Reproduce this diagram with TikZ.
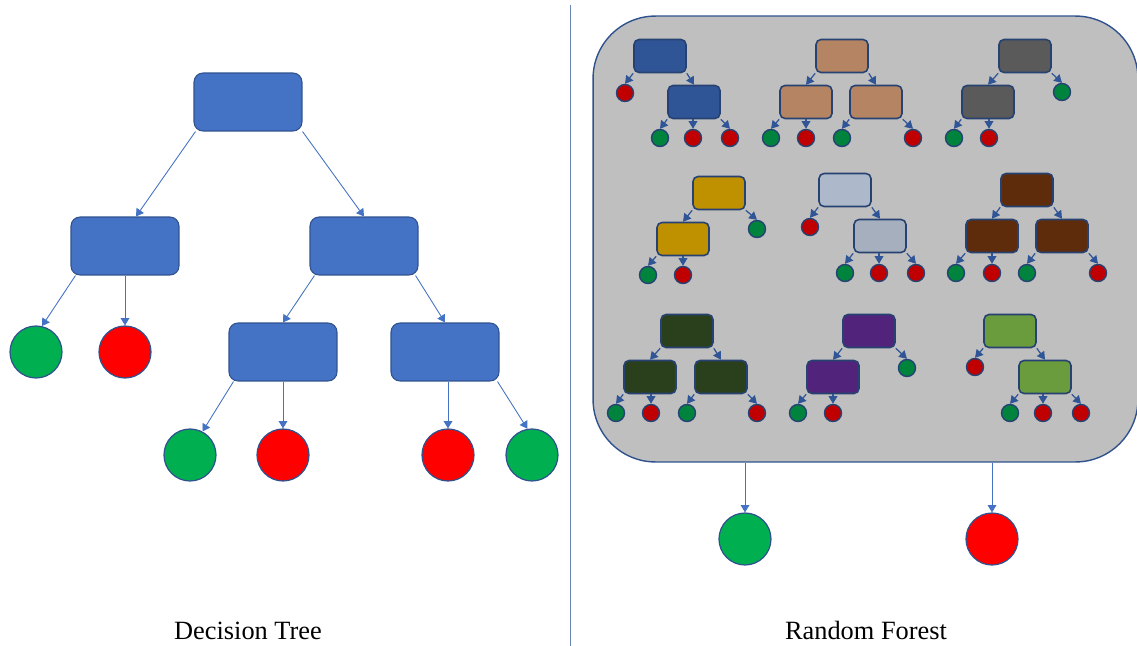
\documentclass[tikz,border=0pt]{standalone}
\usepackage{fontspec}
\setmainfont{Liberation Serif}
\usetikzlibrary{arrows.meta, calc}
\definecolor{cnode}{HTML}{4472C4}
\definecolor{cedge}{HTML}{2F528F}
\definecolor{cline}{HTML}{6C85B5}
\definecolor{cgreen}{HTML}{00B050}
\definecolor{cred}{HTML}{FF0000}
\definecolor{cdkgreen}{HTML}{00843D}
\definecolor{cdkred}{HTML}{C00000}
\definecolor{cforest}{HTML}{BFBFBF}
\definecolor{carrow}{HTML}{2F5597}
\definecolor{ctan}{HTML}{B58462}
\definecolor{cgraph}{HTML}{5A5A5A}
\definecolor{cgold}{HTML}{BF9000}
\definecolor{csteel}{HTML}{ADB9CA}
\definecolor{csteeldk}{HTML}{A6AFBD}
\definecolor{cbrown}{HTML}{5E2C0A}
\definecolor{cpine}{HTML}{2A3F1B}
\definecolor{cpurple}{HTML}{52237A}
\definecolor{colive}{HTML}{6A9B3C}
\tikzset{
  every picture/.style={line width=0.6pt},
  bigbox/.style={draw=cedge, fill=cnode, rounded corners=0.18cm, minimum width=2.16cm, minimum height=1.16cm, inner sep=0pt},
  bigleaf/.style={circle, draw=cedge, fill=#1, minimum size=1.04cm, inner sep=0pt, line width=0.7pt},
  minibox/.style={draw=cedge!80!black, fill=#1, rounded corners=0.1cm, minimum width=1.04cm, minimum height=0.66cm, inner sep=0pt, line width=0.9pt},
  minileaf/.style={circle, draw=cedge!80!black, fill=#1, minimum size=0.34cm, inner sep=0pt, line width=0.8pt},
  arrow/.style={-{Triangle[length=4.2pt, width=5pt]}, draw=cnode, line width=0.5pt},
  miniarrow/.style={-{Triangle[length=4.4pt, width=5pt]}, draw=carrow, line width=0.7pt},
  caption/.style={font=\fontsize{15}{18}\selectfont, anchor=base},
}

\begin{document}
\begin{tikzpicture}[x=0.02cm, y=-0.02cm]
  \useasboundingbox (0,0) rectangle (1137,646);
  % decision tree
  \node[bigbox] (dt-root) at (248,102) {};
  \node[bigbox] (dt-a) at (125,246) {};
  \node[bigbox] (dt-b) at (364,246) {};
  \node[bigbox] (dt-c) at (283,352) {};
  \node[bigbox] (dt-d) at (445,352) {};
  \node[bigleaf=cgreen] (dt-g1) at (36,352) {};
  \node[bigleaf=cred] (dt-r1) at (125,352) {};
  \node[bigleaf=cgreen] (dt-g2) at (190,455) {};
  \node[bigleaf=cred] (dt-r2) at (283,455) {};
  \node[bigleaf=cred] (dt-r3) at (448,455) {};
  \node[bigleaf=cgreen] (dt-g3) at (532,455) {};
  \draw[arrow] ($(dt-root.south west)+(2,0)$) -- ($(dt-a.north)+(11,0)$);
  \draw[arrow] (dt-root.south east) -- (dt-b.north);
  \draw[arrow] ($(dt-a.south west)+(5,0)$) -- (dt-g1.77);
  \draw[arrow] (dt-a.south) -- (dt-r1.north);
  \draw[arrow] ($(dt-b.south west)+(5,0)$) -- (dt-c.north);
  \draw[arrow] ($(dt-b.south east)+(-3,0)$) -- (dt-d.north);
  \draw[arrow] ($(dt-c.south west)+(5,0)$) -- (dt-g2.62);
  \draw[arrow] (dt-c.south) -- (dt-r2.north);
  \draw[arrow] (dt-r3 |- dt-d.south) -- (dt-r3.north);
  \draw[arrow] ($(dt-d.south east)+(-2,0)$) -- (dt-g3.100);
  \node[caption] (dt-label) at (248,639) {Decision Tree};

  \draw[draw=cline, line width=0.45pt] (570,5) -- (570,646);

  % random forest
  \node[draw=cedge, fill=cforest, rounded corners=1.25cm, minimum width=10.9cm, minimum height=8.92cm, inner sep=0pt, line width=0.8pt] (forest) at (865.5,239) {};
  \node[bigleaf=cgreen] (rf-g) at (745,539) {};
  \node[bigleaf=cred] (rf-r) at (992,539) {};
  \draw[arrow] (rf-g |- forest.south) -- (rf-g.north);
  \draw[arrow] (rf-r |- forest.south) -- (rf-r.north);
  \node[caption] (rf-label) at (866,639) {Random Forest};

  % tree 1
  \node[minibox=carrow] (t1-root) at (660,56) {};
  \node[minibox=carrow] (t1-a) at (694,102) {};
  \node[minileaf=cdkred] (t1-l1) at (625,93) {};
  \node[minileaf=cdkgreen] (t1-l2) at (660,138) {};
  \node[minileaf=cdkred] (t1-l3) at (693,138) {};
  \node[minileaf=cdkred] (t1-l4) at (730,138) {};
  \draw[miniarrow] (t1-root.south west) -- (t1-l1.north);
  \draw[miniarrow] (t1-root.south east) -- (t1-a.north);
  \draw[miniarrow] (t1-a.south west) -- (t1-l2.north);
  \draw[miniarrow] (t1-l3 |- t1-a.south) -- (t1-l3.north);
  \draw[miniarrow] (t1-a.south east) -- (t1-l4.north);

  % tree 2
  \node[minibox=ctan] (t2-root) at (842,56) {};
  \node[minibox=ctan] (t2-a) at (806,102) {};
  \node[minibox=ctan] (t2-b) at (876,102) {};
  \node[minileaf=cdkgreen] (t2-l1) at (771,138) {};
  \node[minileaf=cdkred] (t2-l2) at (806,138) {};
  \node[minileaf=cdkgreen] (t2-l3) at (842,138) {};
  \node[minileaf=cdkred] (t2-l4) at (913,138) {};
  \draw[miniarrow] (t2-root.south west) -- (t2-a.north);
  \draw[miniarrow] (t2-root.south east) -- (t2-b.north);
  \draw[miniarrow] (t2-a.south west) -- (t2-l1.north);
  \draw[miniarrow] (t2-a.south) -- (t2-l2.north);
  \draw[miniarrow] (t2-b.south west) -- (t2-l3.north);
  \draw[miniarrow] (t2-b.south east) -- (t2-l4.north);

  % tree 3
  \node[minibox=cgraph] (t3-root) at (1025,56) {};
  \node[minibox=cgraph] (t3-a) at (988,102) {};
  \node[minileaf=cdkgreen] (t3-l1) at (1062,92) {};
  \node[minileaf=cdkgreen] (t3-l2) at (954,138) {};
  \node[minileaf=cdkred] (t3-l3) at (989,138) {};
  \draw[miniarrow] (t3-root.south west) -- (t3-a.north);
  \draw[miniarrow] (t3-root.south east) -- (t3-l1.north);
  \draw[miniarrow] (t3-a.south west) -- (t3-l2.north);
  \draw[miniarrow] (t3-l3 |- t3-a.south) -- (t3-l3.north);

  % tree 4
  \node[minibox=cgold] (t4-root) at (719,193) {};
  \node[minibox=cgold] (t4-a) at (683,239) {};
  \node[minileaf=cdkgreen] (t4-l1) at (757,229) {};
  \node[minileaf=cdkgreen] (t4-l2) at (648,275) {};
  \node[minileaf=cdkred] (t4-l3) at (683,275) {};
  \draw[miniarrow] (t4-root.south west) -- (t4-a.north);
  \draw[miniarrow] (t4-root.south east) -- (t4-l1.north);
  \draw[miniarrow] (t4-a.south west) -- (t4-l2.north);
  \draw[miniarrow] (t4-a.south) -- (t4-l3.north);

  % tree 5
  \node[minibox=csteel] (t5-root) at (845,190) {};
  \node[minibox=csteeldk] (t5-a) at (880,236) {};
  \node[minileaf=cdkred] (t5-l1) at (810,227) {};
  \node[minileaf=cdkgreen] (t5-l2) at (845,273) {};
  \node[minileaf=cdkred] (t5-l3) at (879,273) {};
  \node[minileaf=cdkred] (t5-l4) at (916,273) {};
  \draw[miniarrow] (t5-root.south west) -- (t5-l1.north);
  \draw[miniarrow] (t5-root.south east) -- (t5-a.north);
  \draw[miniarrow] (t5-a.south west) -- (t5-l2.north);
  \draw[miniarrow] (t5-l3 |- t5-a.south) -- (t5-l3.north);
  \draw[miniarrow] (t5-a.south east) -- (t5-l4.north);

  % tree 6
  \node[minibox=cbrown] (t6-root) at (1027,190) {};
  \node[minibox=cbrown] (t6-a) at (992,236) {};
  \node[minibox=cbrown] (t6-b) at (1062,236) {};
  \node[minileaf=cdkgreen] (t6-l1) at (956,273) {};
  \node[minileaf=cdkred] (t6-l2) at (992,273) {};
  \node[minileaf=cdkgreen] (t6-l3) at (1027,273) {};
  \node[minileaf=cdkred] (t6-l4) at (1098,273) {};
  \draw[miniarrow] (t6-root.south west) -- (t6-a.north);
  \draw[miniarrow] (t6-root.south east) -- (t6-b.north);
  \draw[miniarrow] (t6-a.south west) -- (t6-l1.north);
  \draw[miniarrow] (t6-a.south) -- (t6-l2.north);
  \draw[miniarrow] (t6-b.south west) -- (t6-l3.north);
  \draw[miniarrow] (t6-b.south east) -- (t6-l4.north);

  % tree 7
  \node[minibox=cpine] (t7-root) at (687,331) {};
  \node[minibox=cpine] (t7-a) at (650,377) {};
  \node[minibox=cpine] (t7-b) at (721,377) {};
  \node[minileaf=cdkgreen] (t7-l1) at (616,413) {};
  \node[minileaf=cdkred] (t7-l2) at (651,413) {};
  \node[minileaf=cdkgreen] (t7-l3) at (687,413) {};
  \node[minileaf=cdkred] (t7-l4) at (757,413) {};
  \draw[miniarrow] (t7-root.south west) -- (t7-a.north);
  \draw[miniarrow] (t7-root.south east) -- (t7-b.north);
  \draw[miniarrow] (t7-a.south west) -- (t7-l1.north);
  \draw[miniarrow] (t7-l2 |- t7-a.south) -- (t7-l2.north);
  \draw[miniarrow] (t7-b.south west) -- (t7-l3.north);
  \draw[miniarrow] (t7-b.south east) -- (t7-l4.north);

  % tree 8
  \node[minibox=cpurple] (t8-root) at (869,331) {};
  \node[minibox=cpurple] (t8-a) at (833,377) {};
  \node[minileaf=cdkgreen] (t8-l1) at (907,368) {};
  \node[minileaf=cdkgreen] (t8-l2) at (798,413) {};
  \node[minileaf=cdkred] (t8-l3) at (833,413) {};
  \draw[miniarrow] (t8-root.south west) -- (t8-a.north);
  \draw[miniarrow] (t8-root.south east) -- (t8-l1.north);
  \draw[miniarrow] (t8-a.south west) -- (t8-l2.north);
  \draw[miniarrow] (t8-a.south) -- (t8-l3.north);

  % tree 9
  \node[minibox=colive] (t9-root) at (1010,331) {};
  \node[minibox=colive] (t9-a) at (1045,377) {};
  \node[minileaf=cdkred] (t9-l1) at (975,367) {};
  \node[minileaf=cdkgreen] (t9-l2) at (1010,413) {};
  \node[minileaf=cdkred] (t9-l3) at (1043,413) {};
  \node[minileaf=cdkred] (t9-l4) at (1081,413) {};
  \draw[miniarrow] (t9-root.south west) -- (t9-l1.north);
  \draw[miniarrow] (t9-root.south east) -- (t9-a.north);
  \draw[miniarrow] (t9-a.south west) -- (t9-l2.north);
  \draw[miniarrow] (t9-l3 |- t9-a.south) -- (t9-l3.north);
  \draw[miniarrow] (t9-a.south east) -- (t9-l4.north);
\end{tikzpicture}
\end{document}
